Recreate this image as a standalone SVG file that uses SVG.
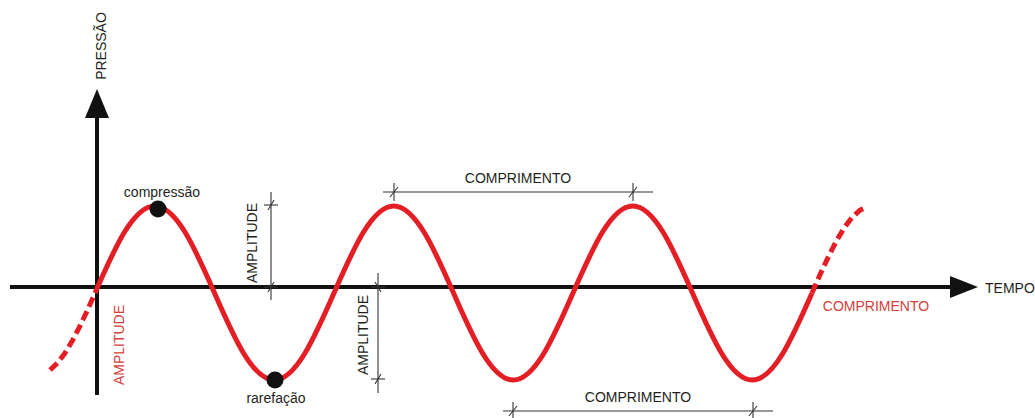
<svg xmlns="http://www.w3.org/2000/svg" width="1035" height="418" viewBox="0 0 1035 418">
<style>
.lbl{font-family:"Liberation Sans",Arial,sans-serif;font-size:14px;fill:#231f20}
.red{fill:#d6403a}
.axis{stroke:#111;stroke-width:4;fill:none}
.dim{stroke:#333;stroke-width:1.1;fill:none}
.wave{stroke:#e31e24;stroke-width:5;fill:none;stroke-linecap:butt}
.dash{stroke-dasharray:10 5}
</style>
<rect width="1035" height="418" fill="#fff"/>
<g id="axes">
<line class="axis" x1="10" y1="287" x2="952" y2="287"/>
<polygon points="950,276 978,287 950,298" fill="#111"/>
<line class="axis" x1="97" y1="395" x2="97" y2="116"/>
<polygon points="85,118 97,89 109,118" fill="#111"/>
<text class="lbl" transform="translate(106,46) rotate(-90)" text-anchor="middle">PRESSÃO</text>
<text class="lbl" x="985" y="293">TEMPO</text>
</g>
<g id="wave">
<path class="wave" d="M95,293 c19.49,-44.57 38.13,-87 59.75,-87 s40.26,42.43 59.75,87 s38.13,87 59.75,87 s40.26,-42.43 59.75,-87 s38.13,-87 59.75,-87 s40.26,42.43 59.75,87 s38.13,87 59.75,87 s40.26,-42.43 59.75,-87 s38.13,-87 59.75,-87 s40.26,42.43 59.75,87 s38.13,87 59.75,87 s40.26,-42.43 59.75,-87"/>
<polyline class="wave dash" points="50,370 57.5,363 65,353 72.5,340.5 80,326 87.5,310 95,293"/>
<polyline class="wave dash" points="812,293 820,274.8 828,257.5 836,241.7 844,228.1 852,217.5 860,210.1 866,207.5"/>
</g>
<g id="compressao">
<circle cx="158" cy="209" r="8.5" fill="#111"/>
<text class="lbl" x="162" y="197" text-anchor="middle">compressão</text>
</g>
<g id="rarefacao">
<circle cx="275" cy="380" r="8.5" fill="#111"/>
<text class="lbl" x="276" y="403" text-anchor="middle">rarefação</text>
</g>
<g id="amplitude-upper">
<line class="dim" x1="271" y1="192" x2="271" y2="300"/>
<line class="dim" x1="264" y1="205" x2="278" y2="205"/>
<line class="dim" x1="268" y1="210" x2="274" y2="200"/>
<line class="dim" x1="264" y1="287" x2="278" y2="287"/>
<line class="dim" x1="268" y1="292" x2="274" y2="282"/>
<text class="lbl" transform="translate(257,243) rotate(-90)" text-anchor="middle">AMPLITUDE</text>
</g>
<g id="amplitude-lower">
<line class="dim" x1="378" y1="273" x2="378" y2="393"/>
<line class="dim" x1="371" y1="287" x2="385" y2="287"/>
<line class="dim" x1="375" y1="282" x2="381" y2="292"/>
<line class="dim" x1="371" y1="379" x2="385" y2="379"/>
<line class="dim" x1="375" y1="384" x2="381" y2="374"/>
<text class="lbl" transform="translate(368,335) rotate(-90)" text-anchor="middle">AMPLITUDE</text>
</g>
<g id="amplitude-red">
<text class="lbl red" transform="translate(124,345) rotate(-90)" text-anchor="middle">AMPLITUDE</text>
</g>
<g id="comprimento-top">
<line class="dim" x1="383" y1="192" x2="653" y2="192"/>
<line class="dim" x1="394" y1="183" x2="394" y2="201"/>
<line class="dim" x1="390" y1="197" x2="398" y2="187"/>
<line class="dim" x1="633" y1="183" x2="633" y2="201"/>
<line class="dim" x1="629" y1="197" x2="637" y2="187"/>
<text class="lbl" x="518" y="183" text-anchor="middle">COMPRIMENTO</text>
</g>
<g id="comprimento-bottom">
<line class="dim" x1="503" y1="411" x2="773" y2="411"/>
<line class="dim" x1="513" y1="402" x2="513" y2="418"/>
<line class="dim" x1="509" y1="416" x2="517" y2="406"/>
<line class="dim" x1="753" y1="402" x2="753" y2="418"/>
<line class="dim" x1="749" y1="416" x2="757" y2="406"/>
<text class="lbl" x="638" y="402" text-anchor="middle">COMPRIMENTO</text>
</g>
<g id="comprimento-red">
<text class="lbl red" x="876" y="311" text-anchor="middle">COMPRIMENTO</text>
</g>
</svg>
